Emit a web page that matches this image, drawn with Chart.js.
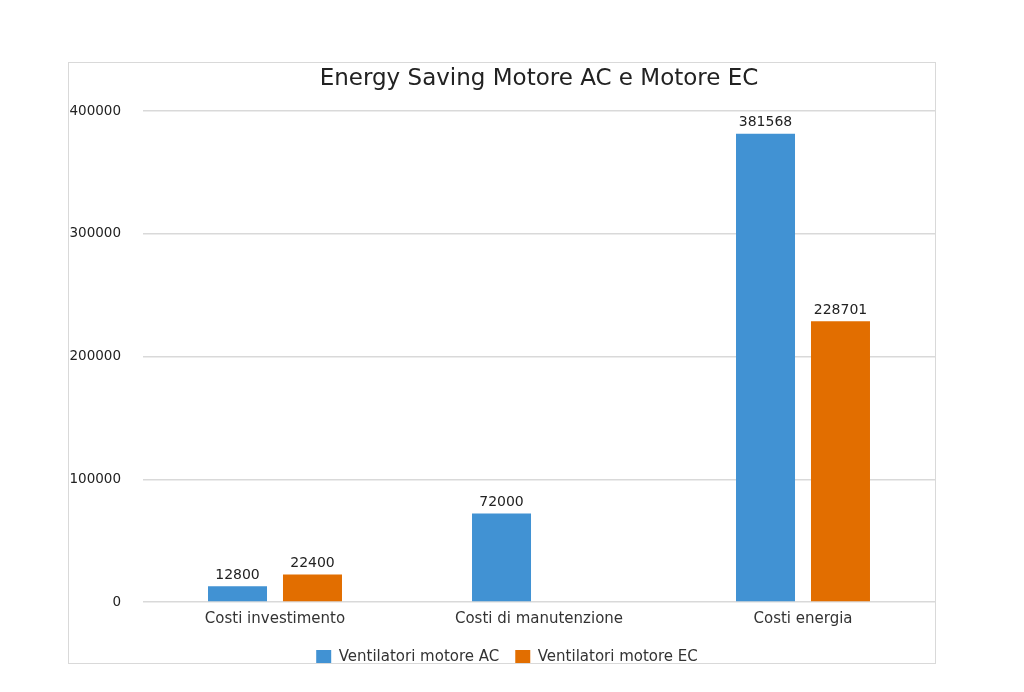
<!DOCTYPE html>
<html>
<head>
<meta charset="utf-8">
<script src="https://cdn.jsdelivr.net/npm/chart.js@4/dist/chart.umd.min.js"></script>
<style>
  body { margin: 0; background: #fff; }
  .frame {
    position: absolute;
    left: 68px; top: 62px;
    width: 866px; height: 600px;
    border: 1px solid #d9d9d9;
  }
</style>
</head>
<body>
<div class="frame"><canvas id="chart" width="866" height="600"></canvas></div>
<script>
const categories = ["Costi investimento", "Costi di manutenzione", "Costi energia"];
const acValues = [12800, 72000, 381568];
const ecValues = [22400, null, 228701];
const yTicks = [0, 100000, 200000, 300000, 400000];
const chartTitle = "Energy Saving Motore AC e Motore EC";

const FONT = "'DejaVu Sans', sans-serif";

// valori sopra le barre
const barLabels = {
    id: "barLabels",
    afterDatasetsDraw(chart) {
        const ctx = chart.ctx;
        ctx.save();
        ctx.font = `14px ${FONT}`;
        ctx.fillStyle = "#222";
        ctx.textAlign = "center";
        ctx.textBaseline = "bottom";
        chart.data.datasets.forEach((ds, i) => {
            const meta = chart.getDatasetMeta(i);
            meta.data.forEach((bar, j) => {
                const v = ds.data[j];
                if (v === null || v === undefined) return;
                ctx.fillText(String(v), bar.x, bar.y - 4);
            });
        });
        ctx.restore();
    }
};

// titolo centrato sull'area del grafico, legenda spostata un po'
const plotTitle = {
    id: "plotTitle",
    afterLayout(chart) {
        if (chart.legend) {
            chart.legend.left += 5;
            chart.legend.right += 5;
            chart.legend.top -= 2;
            chart.legend.bottom -= 2;
        }
    },
    afterDraw(chart) {
        const ctx = chart.ctx;
        const area = chart.chartArea;
        ctx.save();
        ctx.font = `23px ${FONT}`;
        ctx.fillStyle = "#222";
        ctx.textAlign = "center";
        ctx.textBaseline = "middle";
        ctx.fillText(chartTitle, (area.left + area.right) / 2, 16);
        ctx.restore();
    }
};

new Chart(document.getElementById("chart"), {
    type: "bar",
    data: {
        labels: categories,
        datasets: [{
            label: "Ventilatori motore AC",
            data: acValues,
            backgroundColor: "#4192d3",
            categoryPercentage: 0.568,
            barPercentage: 0.787
        }, {
            label: "Ventilatori motore EC",
            data: ecValues,
            backgroundColor: "#e26e00",
            categoryPercentage: 0.568,
            barPercentage: 0.787
        }]
    },
    options: {
        responsive: false,
        animation: false,
        layout: { padding: { top: 48, right: 0, left: 0, bottom: -14 } },
        plugins: {
            title: { display: false },
            legend: {
                position: "bottom",
                labels: {
                    color: "#333",
                    font: { family: FONT, size: 15 },
                    boxWidth: 15,
                    boxHeight: 15,
                    padding: 16
                }
            },
            tooltip: { enabled: false }
        },
        scales: {
            x: {
                grid: { display: false, drawTicks: false },
                border: { display: false },
                ticks: { color: "#333", font: { family: FONT, size: 15 }, padding: 8 }
            },
            y: {
                min: 0,
                max: 400000,
                afterFit(scale) { scale.width = 74; },
                afterBuildTicks(scale) { scale.ticks = yTicks.map(v => ({ value: v })); },
                grid: { color: "#d9d9d9", lineWidth: 1.5, drawTicks: false },
                border: { display: false },
                ticks: {
                    color: "#222",
                    font: { family: FONT, size: 13.5 },
                    padding: 22,
                    callback: v => String(v)
                }
            }
        }
    },
    plugins: [barLabels, plotTitle]
});
</script>
</body>
</html>
